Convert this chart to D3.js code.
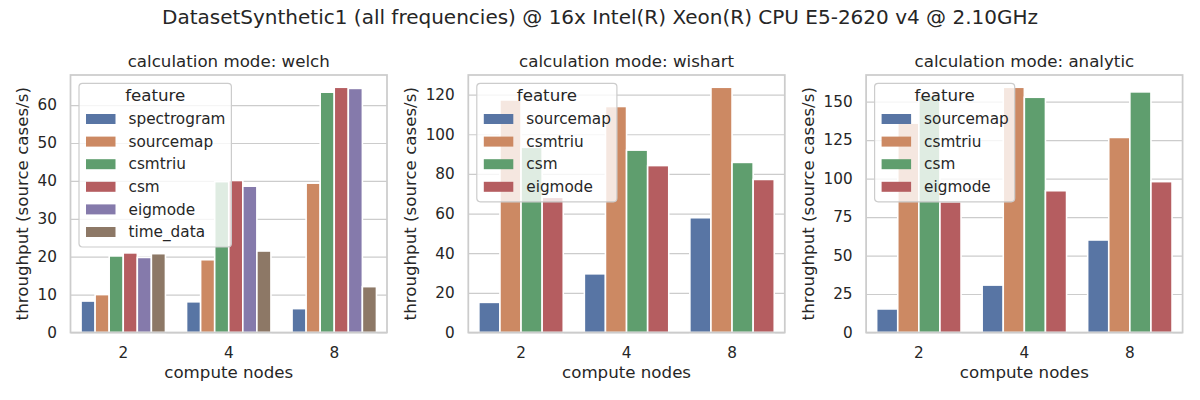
<!DOCTYPE html>
<html>
<head>
<meta charset="utf-8">
<script src="https://cdn.jsdelivr.net/npm/d3@7"></script>
<style>
  html, body { margin: 0; padding: 0; background: #ffffff; }
  text { font-family: "DejaVu Sans", sans-serif; fill: #262626; }
</style>
</head>
<body>
<script>
// ---------------- data ----------------
const suptitle = "DatasetSynthetic1 (all frequencies) @ 16x Intel(R) Xeon(R) CPU E5-2620 v4 @ 2.10GHz";
const nodes = ["2", "4", "8"];
const xLabel = "compute nodes";
const yLabel = "throughput (source cases/s)";
const legendTitle = "feature";

const modes = ["welch", "wishart", "analytic"];

const welchFeatures = ["spectrogram", "sourcemap", "csmtriu", "csm", "eigmode", "time_data"];
const welchSpectrogram = [8.3, 8.1, 6.3];
const welchSourcemap   = [10.0, 19.2, 39.4];
const welchCsmtriu     = [20.2, 39.8, 63.4];
const welchCsm         = [21.0, 40.1, 64.7];
const welchEigmode     = [19.8, 38.6, 64.4];
const welchTimeData    = [20.8, 21.5, 12.1];

const wishartFeatures = ["sourcemap", "csmtriu", "csm", "eigmode"];
const wishartSourcemap = [15.2, 29.6, 57.9];
const wishartCsmtriu   = [117.3, 114.0, 123.7];
const wishartCsm       = [93.4, 92.0, 85.8];
const wishartEigmode   = [68.2, 84.2, 77.2];

const analyticFeatures = ["sourcemap", "csmtriu", "csm", "eigmode"];
const analyticSourcemap = [15.3, 30.8, 60.1];
const analyticCsmtriu   = [136.0, 159.3, 126.7];
const analyticCsm       = [153.6, 152.8, 156.3];
const analyticEigmode   = [84.9, 92.1, 98.0];

const welchTicks    = [0, 10, 20, 30, 40, 50, 60];
const wishartTicks  = [0, 20, 40, 60, 80, 100, 120];
const analyticTicks = [0, 25, 50, 75, 100, 125, 150];

const palette = ["#5875a4", "#cc8963", "#5f9e6e", "#b55d60", "#857aab", "#8d7866"];

const panels = [
  { mode: modes[0], features: welchFeatures,
    values: [welchSpectrogram, welchSourcemap, welchCsmtriu, welchCsm, welchEigmode, welchTimeData],
    ticks: welchTicks },
  { mode: modes[1], features: wishartFeatures,
    values: [wishartSourcemap, wishartCsmtriu, wishartCsm, wishartEigmode],
    ticks: wishartTicks },
  { mode: modes[2], features: analyticFeatures,
    values: [analyticSourcemap, analyticCsmtriu, analyticCsm, analyticEigmode],
    ticks: analyticTicks }
];

// ---------------- layout ----------------
const W = 1200, H = 400;
const axLefts = [70.5, 468.3, 866.1];
const axW = 316.5;
const axTop = 75, axBottom = 332.5;
const gridColor = "#cccccc";
const tickFont = "15.28px", labelFont = "16.67px";

const svg = d3.select("body").append("svg")
  .attr("width", W).attr("height", H)
  .style("display", "block");

svg.append("text")
  .attr("x", 600).attr("y", 23.5)
  .attr("text-anchor", "middle")
  .style("font-size", "20px")
  .text(suptitle);

panels.forEach((p, i) => {
  const left = axLefts[i];
  const right = left + axW;
  const g = svg.append("g");

  const maxV = d3.max(p.values, arr => d3.max(arr));
  const y = d3.scaleLinear().domain([0, maxV * 1.05]).range([axBottom, axTop]);
  const x = d3.scaleBand().domain(nodes).range([left, right])
    .paddingInner(0.2).paddingOuter(0.1);
  const xs = d3.scaleBand().domain(p.features).range([0, x.bandwidth()]);
  const color = d3.scaleOrdinal().domain(p.features).range(palette);

  // grid
  const grid = g.append("g")
    .attr("transform", `translate(${left},0)`)
    .call(d3.axisLeft(y).tickValues(p.ticks).tickSize(-axW).tickFormat(""));
  grid.select(".domain").remove();
  grid.selectAll("line").attr("stroke", gridColor).attr("stroke-width", 1.2);

  // bars
  p.features.forEach((f, fi) => {
    g.append("g").selectAll("rect")
      .data(p.values[fi].map((v, j) => ({ node: nodes[j], v })))
      .join("rect")
      .attr("x", d => x(d.node) + xs(f))
      .attr("width", xs.bandwidth())
      .attr("y", d => y(d.v))
      .attr("height", d => y(0) - y(d.v))
      .attr("fill", color(f))
      .attr("stroke", "#ffffff")
      .attr("stroke-width", 1.6);
  });

  // spines
  g.append("rect")
    .attr("x", left).attr("y", axTop)
    .attr("width", axW).attr("height", axBottom - axTop)
    .attr("fill", "none").attr("stroke", gridColor).attr("stroke-width", 1.75);

  // y tick labels
  const ya = g.append("g")
    .attr("transform", `translate(${left},0)`)
    .call(d3.axisLeft(y).tickValues(p.ticks).tickSize(0).tickPadding(13.5).tickFormat(d3.format("d")));
  ya.select(".domain").remove();
  ya.selectAll("text").style("font-size", tickFont).style("font-family", "DejaVu Sans").attr("fill", "#262626");

  // x tick labels
  const xa = g.append("g")
    .attr("transform", `translate(0,${axBottom})`)
    .call(d3.axisBottom(x).tickSize(0).tickPadding(14.6));
  xa.select(".domain").remove();
  xa.selectAll("text").style("font-size", tickFont).style("font-family", "DejaVu Sans").attr("fill", "#262626");

  // title
  g.append("text")
    .attr("x", (left + right) / 2).attr("y", 66.7)
    .attr("text-anchor", "middle")
    .style("font-size", labelFont)
    .text("calculation mode: " + p.mode);

  // x label
  g.append("text")
    .attr("x", (left + right) / 2).attr("y", 378)
    .attr("text-anchor", "middle")
    .style("font-size", labelFont)
    .text(xLabel);

  // y label
  const tickLeft = ya.node().getBBox().x + left;
  const ylx = tickLeft - 9.5;
  g.append("text")
    .attr("transform", `translate(${ylx},${(axTop + axBottom) / 2}) rotate(-90)`)
    .attr("text-anchor", "middle")
    .style("font-size", labelFont)
    .text(yLabel);

  // legend
  const lx = left + 8.5, ly = axTop + 8.3;
  const lg = g.append("g").attr("transform", `translate(${lx},${ly})`);
  const frame = lg.append("rect")
    .attr("rx", 3.5).attr("ry", 3.5)
    .attr("fill", "#ffffff").attr("fill-opacity", 0.8)
    .attr("stroke", gridColor).attr("stroke-width", 1.2);
  const rowY = k => 35.7 + k * 22.6;
  let maxW = 0;
  p.features.forEach((f, k) => {
    lg.append("rect")
      .attr("x", 7).attr("y", rowY(k) - 5)
      .attr("width", 29.5).attr("height", 10)
      .attr("fill", color(f));
    const t = lg.append("text")
      .attr("x", 49.5).attr("y", rowY(k) + 5.3)
      .style("font-size", tickFont)
      .text(f);
    maxW = Math.max(maxW, t.node().getComputedTextLength());
  });
  const lw = 49.5 + maxW + 6;
  const lh = rowY(p.features.length - 1) + 15;
  frame.attr("width", lw).attr("height", lh);
  lg.append("text")
    .attr("x", lw / 2).attr("y", 17.4)
    .attr("text-anchor", "middle")
    .style("font-size", labelFont)
    .text(legendTitle);
});
</script>
</body>
</html>
